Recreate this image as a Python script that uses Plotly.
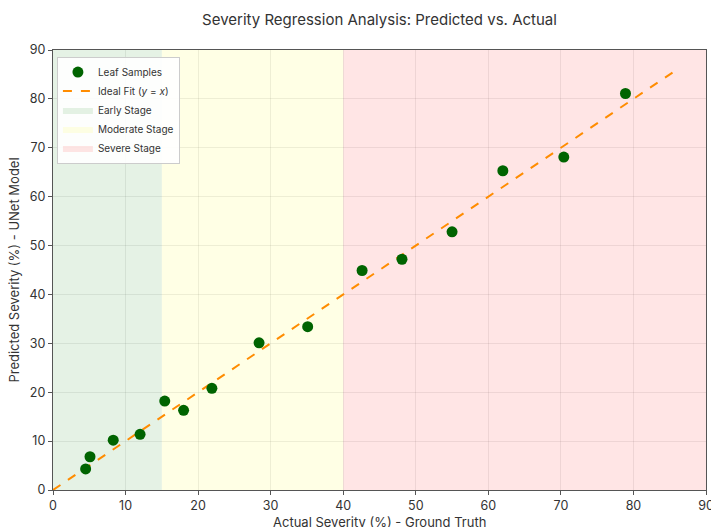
import plotly.graph_objects as go

actual = [4.5, 5.1, 8.3, 12.0, 15.4, 18.0, 21.9, 28.4, 35.1, 42.6, 48.1, 55.0, 62.0, 70.4, 78.9]
predicted = [4.3, 6.8, 10.2, 11.4, 18.2, 16.3, 20.8, 30.1, 33.4, 44.9, 47.2, 52.8, 65.3, 68.1, 81.1]
ideal_range = [0, 86]

stage_names = ["Early Stage", "Moderate Stage", "Severe Stage"]
stage_bounds = [(0, 15), (15, 40), (40, 90)]
stage_colors = ["rgba(0,128,0,0.1)", "rgba(255,255,0,0.1)", "rgba(255,0,0,0.1)"]
y_span = [0, 90]

ticks = [0, 10, 20, 30, 40, 50, 60, 70, 80, 90]

font = "Inter, Roboto, sans-serif"

fig = go.Figure()

for i, (name, (a, b), c) in enumerate(zip(stage_names, stage_bounds, stage_colors)):
    fig.add_trace(go.Scatter(
        x=[a, b, b, a, a], y=[y_span[0], y_span[0], y_span[1], y_span[1], y_span[0]],
        fill="toself", fillcolor=c, mode="lines", line=dict(width=0, color=c),
        name=name, legendrank=3 + i, hoverinfo="skip"))

fig.add_trace(go.Scatter(
    x=ideal_range, y=ideal_range, mode="lines",
    line=dict(color="#ff8c00", width=2, dash="dash"),
    name="Ideal Fit (<i>y</i> = <i>x</i>)", legendrank=2))

fig.add_trace(go.Scatter(
    x=actual, y=predicted, mode="markers",
    marker=dict(color="#006400", size=11, line=dict(width=0)),
    name="Leaf Samples", legendrank=1))

axis_common = dict(
    range=[0, 90], tickvals=ticks, showgrid=True,
    gridcolor="rgba(0,0,0,0.07)", gridwidth=1,
    showline=True, linecolor="#555", linewidth=1.3, mirror=True,
    ticks="outside", ticklen=4, tickcolor="#555",
    tickfont=dict(size=12.5, color="#333", family=font),
    zeroline=False, layer="above traces", automargin=False,
    ticklabeloverflow="allow",
)

fig.update_layout(
    width=711, height=527,
    margin=dict(l=53, r=5, t=50, b=37),
    paper_bgcolor="white", plot_bgcolor="white",
    font=dict(family=font, color="#333"),
    title=dict(text="Severity Regression Analysis: Predicted vs. Actual",
               x=0.5, xref="paper", xanchor="center", y=0.962, yanchor="middle",
               font=dict(size=15, color="#333", family=font)),
    xaxis=dict(axis_common),
    yaxis=dict(axis_common, title=dict(text="Predicted Severity (%) - UNet Model",
               font=dict(size=13, family=font), standoff=6)),
    legend=dict(x=0.006, y=0.985, xanchor="left", yanchor="top",
                bgcolor="rgba(255,255,255,0.9)", bordercolor="#ccc", borderwidth=1,
                font=dict(size=10, color="#333", family=font),
                tracegroupgap=0, itemwidth=30),
    showlegend=True,
    annotations=[dict(text="Actual Severity (%) - Ground Truth", xref="paper", yref="paper",
                      x=0.5, y=-0.072, xanchor="center", yanchor="middle", showarrow=False,
                      font=dict(size=13, color="#333", family=font))],
)

fig.write_html("out.html")
